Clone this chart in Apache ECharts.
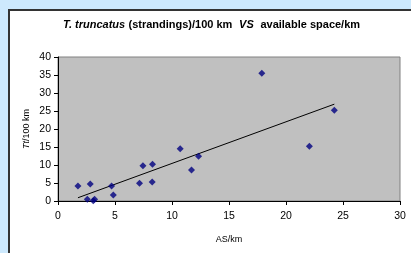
<!DOCTYPE html>
<html><head><meta charset="utf-8">
<script src="https://cdn.jsdelivr.net/npm/echarts@6/dist/echarts.min.js"></script>
<style>html,body{margin:0;padding:0;background:#cde9fd;}#c{width:411px;height:253px;}</style>
</head><body><div id="c"></div>
<script>
const asKm = [1.75, 2.57, 2.83, 3.09, 3.21, 4.70, 4.85, 7.15, 7.45, 8.29, 8.26, 10.72, 11.71, 12.33, 17.88, 22.05, 24.24];
const ttPer100 = [4.2, 0.5, 4.7, 0.1, 0.5, 4.2, 1.7, 4.9, 9.8, 10.2, 5.3, 14.5, 8.6, 12.4, 35.5, 15.2, 25.2];
const trendX = [1.75, 24.24];
const trendY = [0.9, 26.9];
const xTicks = [0, 5, 10, 15, 20, 25, 30];
const yTicks = [0, 5, 10, 15, 20, 25, 30, 35, 40];

const pts = asKm.map((x, i) => [x, ttPer100[i]]);
const trend = trendX.map((x, i) => [x, trendY[i]]);
const font = 'Liberation Sans, Arial, sans-serif';
const chart = echarts.init(document.getElementById('c'), null, {renderer: 'canvas'});
chart.setOption({
  backgroundColor: '#cde9fd',
  animation: false,
  graphic: [{
    type: 'rect', z: -10, silent: true,
    shape: {x: 9, y: 10, width: 420, height: 260},
    style: {fill: '#ffffff', stroke: '#333333', lineWidth: 2}
  }, {
    type: 'text', left: 63, top: 19,
    style: {
      text: '{i|T. truncatus} {b|(strandings)/100 km}  {i|VS}  {b|available space/km}',
      rich: {
        i: {fontFamily: font, fontSize: 11, fontWeight: 'bold', fontStyle: 'italic', fill: '#000'},
        b: {fontFamily: font, fontSize: 11, fontWeight: 'bold', fill: '#000'}
      }
    }
  }],
  grid: {left: 58, right: 11, top: 57, bottom: 52, show: true, backgroundColor: '#c0c0c0', borderColor: '#808080', borderWidth: 1},
  xAxis: {
    type: 'value', min: xTicks[0], max: xTicks[xTicks.length - 1], interval: 5,
    name: 'AS/km', nameLocation: 'middle', nameGap: 34, nameMoveOverlap: false,
    nameTextStyle: {fontFamily: font, fontSize: 9, color: '#000'},
    axisLine: {show: true, lineStyle: {color: '#000', width: 1}},
    axisTick: {show: true, length: 4, inside: false, lineStyle: {color: '#000'}},
    axisLabel: {fontFamily: font, fontSize: 10.5, color: '#000', margin: 10},
    splitLine: {show: false}
  },
  yAxis: {
    type: 'value', min: yTicks[0], max: yTicks[yTicks.length - 1], interval: 5,
    name: '{it|Tt}/100 km', nameLocation: 'middle', nameGap: 27, nameMoveOverlap: false,
    nameTextStyle: {fontFamily: font, fontSize: 9, color: '#000', rich: {it: {fontFamily: font, fontSize: 9, fontStyle: 'italic', color: '#000'}}},
    axisLine: {show: true, lineStyle: {color: '#000', width: 1}},
    axisTick: {show: true, length: 4, inside: false, lineStyle: {color: '#000'}},
    axisLabel: {fontFamily: font, fontSize: 10.5, color: '#000', margin: 7},
    splitLine: {show: false}
  },
  series: [{
    type: 'scatter', data: pts, symbol: 'diamond', symbolSize: 7,
    itemStyle: {color: '#000080'}, z: 3
  }, {
    type: 'line', data: trend, symbol: 'none', showSymbol: false,
    lineStyle: {color: '#000', width: 1}, z: 2
  }]
});
</script></body></html>
